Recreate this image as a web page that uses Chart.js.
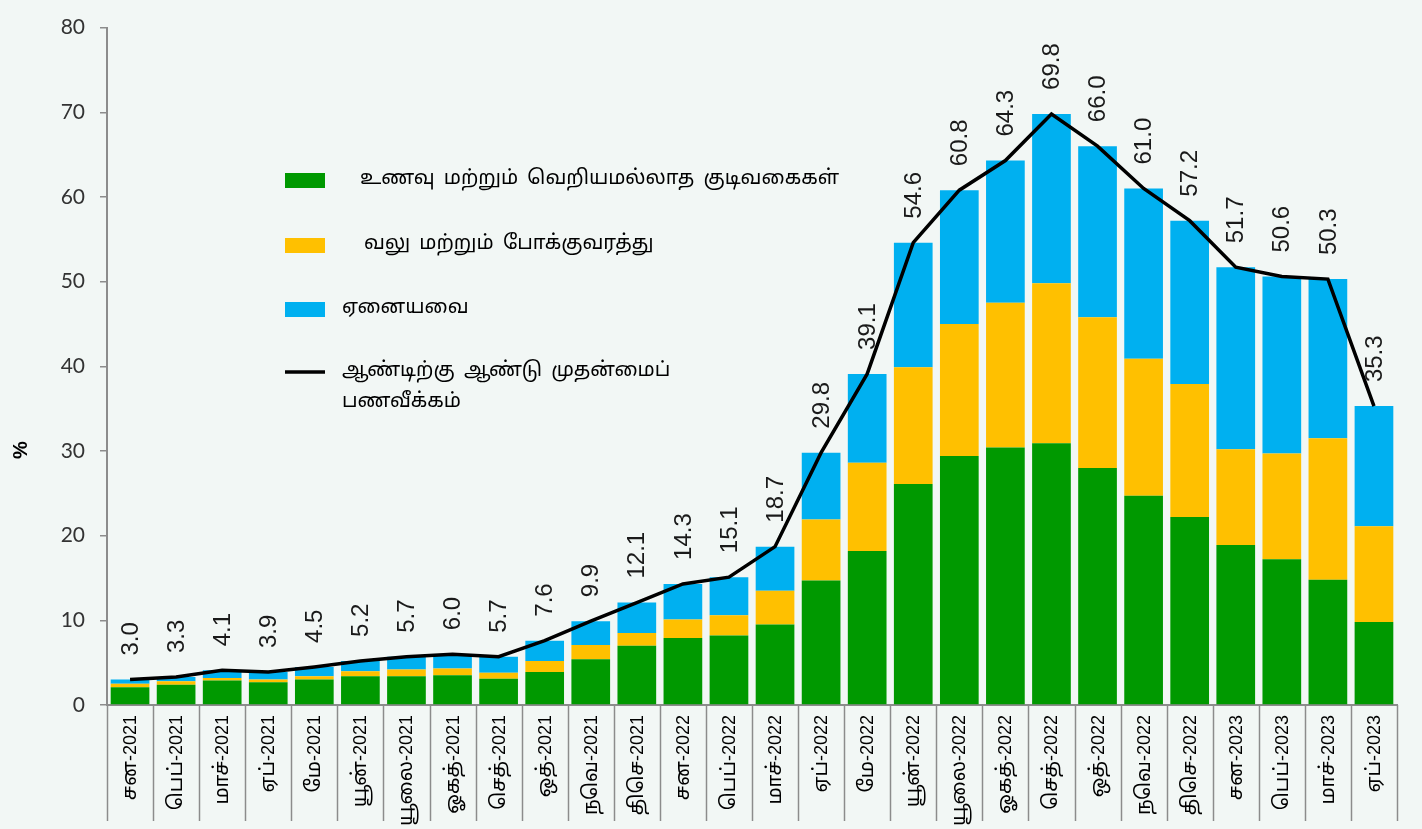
<!DOCTYPE html>
<html>
<head>
<meta charset="utf-8">
<script src="https://cdn.jsdelivr.net/npm/chart.js@4.4.1/dist/chart.umd.min.js"></script>
<style>
    html, body { margin: 0; padding: 0; background: #f2f7f5; }
    #wrap { width: 1422px; height: 829px; }
</style>
</head>
<body>
<div id="wrap"><canvas id="inflationChart" width="1422" height="829"></canvas></div>
<script>
const months = [
    'சன-2021', 'பெப்-2021', 'மாச்-2021', 'ஏப்-2021', 'மே-2021', 'யூன்-2021',
    'யூலை-2021', 'ஓகத்-2021', 'செத்-2021', 'ஒத்-2021', 'நவெ-2021', 'திசெ-2021',
    'சன-2022', 'பெப்-2022', 'மாச்-2022', 'ஏப்-2022', 'மே-2022', 'யூன்-2022',
    'யூலை-2022', 'ஓகத்-2022', 'செத்-2022', 'ஒத்-2022', 'நவெ-2022', 'திசெ-2022',
    'சன-2023', 'பெப்-2023', 'மாச்-2023', 'ஏப்-2023'
];

// contributions, percentage points
const food = [2.1, 2.4, 2.9, 2.7, 3.0, 3.4, 3.4, 3.5, 3.1, 3.9, 5.4, 7.0,
              7.9, 8.2, 9.5, 14.7, 18.2, 26.1, 29.4, 30.4, 30.9, 28.0, 24.7, 22.2,
              18.9, 17.2, 14.8, 9.8];
const energy = [0.4, 0.4, 0.3, 0.3, 0.4, 0.6, 0.8, 0.8, 0.7, 1.3, 1.7, 1.5,
                2.2, 2.4, 4.0, 7.2, 10.4, 13.8, 15.6, 17.1, 18.9, 17.8, 16.2, 15.7,
                11.3, 12.5, 16.7, 11.3];
const others = [0.5, 0.5, 0.9, 0.9, 1.1, 1.2, 1.5, 1.7, 1.9, 2.4, 2.8, 3.6,
                4.2, 4.5, 5.2, 7.9, 10.5, 14.7, 15.8, 16.8, 20.0, 20.2, 20.1, 19.3,
                21.5, 20.9, 18.8, 14.2];
const headline = [3.0, 3.3, 4.1, 3.9, 4.5, 5.2, 5.7, 6.0, 5.7, 7.6, 9.9, 12.1,
                  14.3, 15.1, 18.7, 29.8, 39.1, 54.6, 60.8, 64.3, 69.8, 66.0, 61.0, 57.2,
                  51.7, 50.6, 50.3, 35.3];

const yMin = 0, yMax = 80, yStep = 10;

const seriesNames = [
    ['உணவு மற்றும் வெறியமல்லாத குடிவகைகள்'],
    ['வலு மற்றும் போக்குவரத்து'],
    ['ஏனையவை'],
    ['ஆண்டிற்கு ஆண்டு முதன்மைப்', 'பணவீக்கம்']
];
const yTitle = '%';

const colors = {
    food: '#009900',
    energy: '#ffc000',
    others: '#00b0f0',
    line: '#000000',
    bg: '#f2f7f5',
    axis: '#8c8c8c'
};

const tamilFont = '"Noto Sans Tamil", "Lohit Tamil", "Noto Sans", "DejaVu Sans", sans-serif';
const latinFont = '"Liberation Sans", Arial, sans-serif';

const background = {
    id: 'background',
    beforeDraw(chart) {
        const ctx = chart.ctx;
        ctx.save();
        ctx.fillStyle = colors.bg;
        ctx.fillRect(0, 0, chart.width, chart.height);
        ctx.restore();
    }
};

// month labels and separators between them
const monthAxis = {
    id: 'monthAxis',
    afterDraw(chart) {
        const ctx = chart.ctx;
        const area = chart.chartArea;
        const xs = chart.scales.x;
        const step = (area.right - area.left) / months.length;
        ctx.save();
        ctx.strokeStyle = colors.axis;
        ctx.lineWidth = 1.5;
        for (let i = 0; i <= months.length; i++) {
            const x = Math.round(area.left + i * step) + 0.5;
            ctx.beginPath();
            ctx.moveTo(x, area.bottom);
            ctx.lineTo(x, area.bottom + 116);
            ctx.stroke();
        }
        ctx.fillStyle = '#000';
        ctx.textBaseline = 'middle';
        ctx.textAlign = 'right';
        months.forEach((m, i) => {
            const [name, year] = m.split('-');
            const tail = '-' + year;
            ctx.save();
            ctx.translate(xs.getPixelForValue(i) + 1, area.bottom + 10);
            ctx.rotate(-Math.PI / 2);
            ctx.font = '18px ' + latinFont;
            ctx.fillText(tail, 0, 0);
            const w = ctx.measureText(tail).width;
            ctx.font = '20px ' + tamilFont;
            ctx.fillText(name, -w, 1);
            ctx.restore();
        });
        ctx.restore();
    }
};

// rotated value labels above the headline line
const valueLabels = {
    id: 'valueLabels',
    afterDatasetsDraw(chart) {
        const ctx = chart.ctx;
        const meta = chart.getDatasetMeta(3);
        ctx.save();
        ctx.fillStyle = '#1a1a1a';
        ctx.font = '24px ' + latinFont;
        ctx.textAlign = 'left';
        ctx.textBaseline = 'middle';
        meta.data.forEach((pt, i) => {
            ctx.save();
            ctx.translate(pt.x + 1, pt.y - 24);
            ctx.rotate(-Math.PI / 2);
            ctx.fillText(headline[i].toFixed(1), 0, 0);
            ctx.restore();
        });
        ctx.restore();
    }
};

const customLegend = {
    id: 'customLegend',
    afterDraw(chart) {
        const ctx = chart.ctx;
        const swatch = [colors.food, colors.energy, colors.others];
        const rowsY = [180, 245, 309, 372];
        const textX = [360, 364, 342, 342];
        ctx.save();
        ctx.font = '20px ' + tamilFont;
        ctx.wordSpacing = '4px';
        ctx.textBaseline = 'middle';
        ctx.textAlign = 'left';
        seriesNames.forEach((lines, i) => {
            const y = rowsY[i];
            if (i < 3) {
                ctx.fillStyle = swatch[i];
                ctx.fillRect(285, y - 7, 40, 15);
            } else {
                ctx.strokeStyle = colors.line;
                ctx.lineWidth = 3.5;
                ctx.beginPath();
                ctx.moveTo(285, y);
                ctx.lineTo(325, y);
                ctx.stroke();
            }
            ctx.fillStyle = '#000';
            lines.forEach((t, j) => ctx.fillText(t, textX[i], y + j * 31));
        });

        // axis title
        ctx.save();
        ctx.translate(21, 450);
        ctx.rotate(-Math.PI / 2);
        ctx.font = 'bold 20px ' + latinFont;
        ctx.textAlign = 'center';
        ctx.fillText(yTitle, 0, 0);
        ctx.restore();
        ctx.restore();
    }
};

const barBase = {
    type: 'bar',
    stack: 'contrib',
    order: 2,
    categoryPercentage: 0.84,
    barPercentage: 1.0,
    borderWidth: 0
};

new Chart(document.getElementById('inflationChart'), {
    data: {
        labels: months,
        datasets: [
            { ...barBase, label: seriesNames[0].join(' '), data: food, backgroundColor: colors.food },
            { ...barBase, label: seriesNames[1].join(' '), data: energy, backgroundColor: colors.energy },
            { ...barBase, label: seriesNames[2].join(' '), data: others, backgroundColor: colors.others },
            {
                type: 'line',
                stack: 'headline',
                order: 1,
                label: seriesNames[3].join(' '),
                data: headline,
                borderColor: colors.line,
                borderWidth: 3.5,
                pointRadius: 0,
                tension: 0,
                fill: false
            }
        ]
    },
    options: {
        responsive: false,
        animation: false,
        layout: { padding: { top: 25, right: 25, left: 0, bottom: 0 } },
        plugins: {
            legend: { display: false },
            tooltip: { enabled: false }
        },
        scales: {
            x: {
                stacked: true,
                grid: { display: false },
                border: { display: true, color: colors.axis, width: 2 },
                ticks: { display: false },
                afterFit(scale) { scale.height = 124; }
            },
            y: {
                stacked: true,
                min: yMin,
                max: yMax,
                grid: {
                    drawOnChartArea: false,
                    drawTicks: true,
                    tickLength: 7,
                    color: colors.axis,
                    lineWidth: 1.5
                },
                border: { display: true, color: colors.axis, width: 2 },
                ticks: {
                    stepSize: yStep,
                    color: '#333',
                    padding: 15,
                    font: { family: 'Lato, "Noto Sans", sans-serif', size: 21 }
                },
                afterFit(scale) { scale.width = 107; }
            }
        }
    },
    plugins: [background, monthAxis, valueLabels, customLegend]
});
</script>
</body>
</html>
